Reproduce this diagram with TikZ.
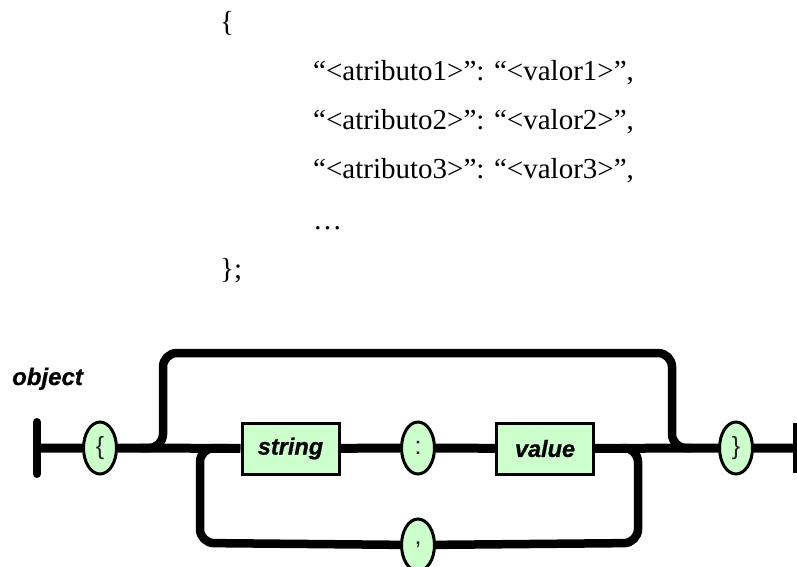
\documentclass[tikz,border=0pt]{standalone}
\usepackage{fontspec}
\setmainfont{Liberation Serif}
\setsansfont{Liberation Sans}
\newfontfamily\railfont{Liberation Sans}[BoldItalicFeatures={FakeBold=0.8}]
\usetikzlibrary{shapes.geometric}
\definecolor{railgreen}{HTML}{CCFFCC}

\begin{document}
\begin{tikzpicture}[x=1pt, y=-1pt,
  rail/.style={line width=9pt},
  loop/.style={line width=8.5pt, rounded corners=14pt},
  nterm/.style={draw, line width=3pt, fill=railgreen, minimum width=97pt, minimum height=51pt, inner sep=0pt, font=\railfont\bfseries\itshape\fontsize{23.5}{28}\selectfont},
  term/.style={draw, ellipse, line width=3pt, fill=railgreen, minimum width=33pt, minimum height=52pt, inner sep=0pt, text=black!85, font=\sffamily\fontsize{25}{27}\selectfont},
  code/.style={anchor=base west, inner sep=0pt, font=\fontsize{29}{34}\selectfont}]
			%%%%% START %%%%%
			\useasboundingbox (0,0) rectangle (797,566);
			
			% JSON text
			\node[code] (brOpen) at (220,31) {\{};
			\node[code] (attr1) at (313,80) {“<atributo1>”: “<valor1>”,};
			\node[code] (attr2) at (313,129) {“<atributo2>”: “<valor2>”,};
			\node[code] (attr3) at (313,178) {“<atributo3>”: “<valor3>”,};
			\node[code] (dots) at (313,229) {…};
			\node[code] (brClose) at (220,278) {\};};
			
			% railroad
			\node[anchor=base west, inner sep=0pt, font=\railfont\bfseries\itshape\fontsize{24}{28}\selectfont] (objlabel) at (12,385) {object};
			
			\coordinate (start) at (37,448);
			\coordinate (stop) at (797,448);
			\coordinate (upIn) at (140,448);
			\coordinate (upOut) at (692,448);
			\coordinate (dnIn) at (228,448);
			\coordinate (dnOut) at (622,448);
			
			\draw[loop] (upIn) -| (163,353) -| (672,448) -- (upOut);
			
			\node[term] (comma) at (418,545) {,};
			\draw[loop] (dnIn) -| (200,543) -- (comma);
			\draw[loop] (comma) -- (638,543) |- (dnOut);
			
			\node[term] (lbrace) at (100,448) {\{};
			\node[nterm] (str) at (290.5,448.5) {string};
			\node[term] (colon) at (418,448) {:};
			\node[nterm] (val) at (545,448.5) {value};
			\node[term] (rbrace) at (736,448) {\}};
			
			\draw[rail] (start) -- (lbrace) -- (str) -- (colon) -- (val) -- (rbrace) -- (stop);
			
			\draw[line width=8pt, line cap=round] (37,422) -- (37,474);
			\draw[line width=8pt] (797,423) -- (797,473);
			
			%%%%% END %%%%%
\end{tikzpicture}
\end{document}
